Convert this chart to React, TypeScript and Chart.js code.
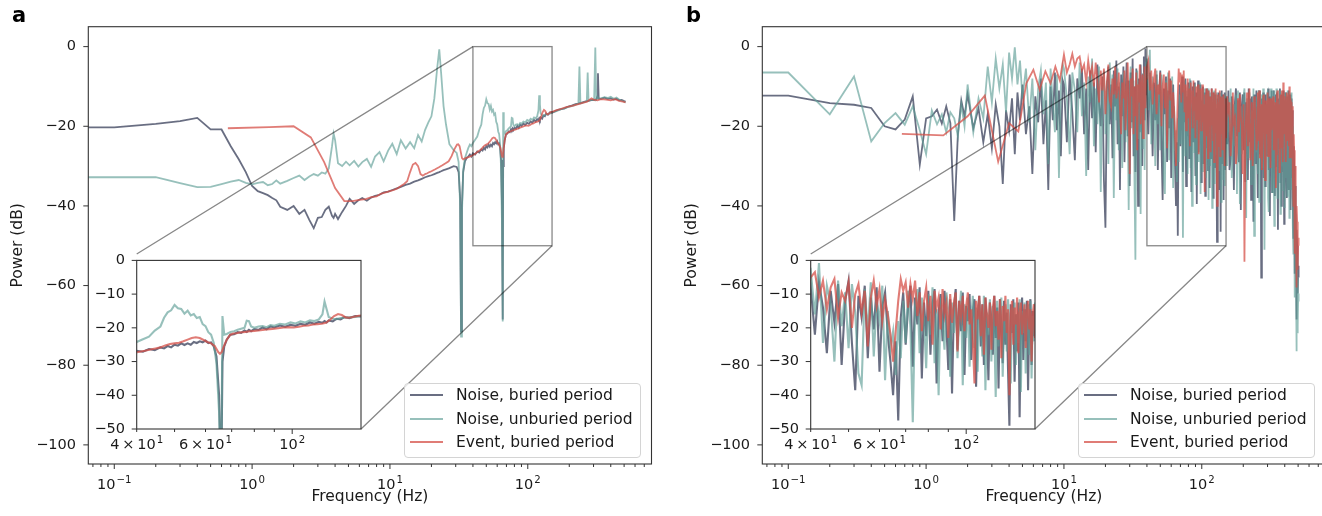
import React, { useEffect, useRef } from 'react';
import { Chart, registerables } from 'chart.js';

Chart.register(...registerables);

// ======================= DATA : panel a =======================
// Noise spectra (buried / unburied) share one frequency grid (Hz); values in dB.
const aNoiseFreq = [
  0.05, 0.1, 0.2, 0.3, 0.4, 0.5, 0.6, 0.7, 0.8, 0.9,
  1.0, 1.1, 1.2, 1.3, 1.4, 1.5, 1.6, 1.8, 2.0, 2.2,
  2.4, 2.6, 2.8, 3.0, 3.2, 3.4, 3.6, 3.8, 3.9, 4.0,
  4.2, 4.5, 4.8, 5.1, 5.5, 5.9, 6.3, 6.8, 7.3, 7.8,
  8.4, 9.0, 9.7, 10.4, 11.2, 12, 13, 14, 15, 16,
  17, 18, 19, 20, 21, 22, 22.8, 23.5, 24.5, 25.5,
  27, 29, 30.5, 31.5, 32.3, 32.8, 33.3, 34, 35, 36,
  37, 38, 39, 40, 41.5, 43, 44.5, 46, 47, 48,
  49, 50, 51, 52, 53, 54, 55, 56, 57, 58,
  59, 60, 61, 62, 63, 64, 65, 65.8, 66.3, 67,
  68, 69.5, 71, 72.5, 74, 75.5, 76.5, 77.5, 78.5, 80,
  82, 84, 86, 88, 90, 93, 96, 99, 102, 105,
  108, 111, 114, 117, 119.5, 121, 122.5, 124, 127, 130,
  133, 136, 140, 145, 150, 158, 166, 175, 185, 195,
  205, 215, 225, 233, 237, 241, 250, 260, 268, 272,
  276, 285, 295, 303, 309, 314, 320, 323, 327, 340,
  360, 380, 400, 420, 440, 460, 480, 500, 512,
];
const aNoiseBuried = [
  -20.3, -20.3, -19.4, -18.7, -17.9, -20.8, -20.8, -25.0, -28.3, -31.5,
  -35.0, -36.3, -36.8, -37.3, -38.0, -38.6, -40.2, -41.0, -40.0, -42.0,
  -41.0, -43.5, -45.6, -43.0, -42.8, -41.0, -40.2, -42.5, -43.0, -42.0,
  -43.3, -41.5, -40.0, -38.2, -39.5, -38.6, -38.0, -38.7, -37.9, -37.5,
  -37.2, -36.6, -36.4, -36.0, -35.6, -35.2, -34.7, -34.4, -33.9, -33.6,
  -33.2, -32.8, -32.5, -32.3, -32.0, -31.7, -31.5, -31.3, -31.0, -30.8,
  -30.5, -30.0, -30.2, -31.5, -38.0, -71.5, -40.0, -31.5, -28.8, -28.0,
  -27.6, -27.1, -27.6, -26.8, -27.1, -26.3, -26.6, -25.8, -26.1, -25.4,
  -25.8, -25.0, -25.3, -24.6, -25.1, -24.6, -25.0, -24.2, -24.5, -24.0,
  -24.3, -23.8, -24.5, -24.3, -25.5, -28.5, -40.0, -68.5, -30.0, -25.5,
  -23.5, -22.0, -21.9, -21.3, -21.5, -20.8, -21.2, -20.6, -21.0, -20.4,
  -20.6, -19.9, -20.4, -19.6, -19.9, -19.3, -19.7, -19.1, -19.4, -18.8,
  -19.1, -18.4, -18.8, -18.2, -18.5, -18.0, -18.4, -17.8, -18.1, -17.3,
  -17.5, -16.8, -17.1, -16.5, -16.6, -16.2, -15.9, -15.7, -15.5, -15.1,
  -14.9, -14.6, -14.4, -14.3, -14.2, -14.2, -14.0, -13.8, -13.7, -13.7,
  -13.6, -13.5, -13.4, -13.4, -13.3, -13.3, -12.5, -6.7, -13.0, -13.1,
  -12.8, -13.1, -13.0, -13.3, -13.1, -13.5, -13.4, -13.7, -13.8,
];
const aNoiseUnburied = [
  -32.8, -32.8, -32.8, -34.3, -35.3, -35.2, -34.5, -33.9, -33.5, -34.2,
  -34.6, -34.2, -34.0, -34.8, -34.5, -33.6, -34.4, -33.7, -33.0, -32.4,
  -33.5, -32.6, -32.0, -32.4, -31.6, -31.9, -30.6, -25.0, -21.8, -23.5,
  -29.3, -30.0, -28.9, -29.8, -28.7, -30.1, -29.0, -28.2, -30.2, -27.6,
  -26.5, -28.8, -26.1, -24.4, -27.0, -23.5, -25.6, -24.0, -25.5, -22.2,
  -23.8, -20.9, -19.0, -17.5, -13.0, -5.5, -0.7, -6.5, -15.0, -19.5,
  -24.5, -26.0, -26.7, -29.0, -40.0, -72.8, -42.0, -31.0, -28.0, -26.7,
  -25.5, -24.6, -25.0, -24.2, -23.4, -22.6, -20.8, -19.6, -17.0, -15.4,
  -14.8, -13.2, -14.2, -14.4, -15.8, -14.9, -16.3, -15.9, -17.1, -16.8,
  -18.9, -19.5, -21.3, -22.0, -24.5, -30.5, -45.0, -69.0, -16.5, -22.0,
  -21.8, -21.2, -21.0, -20.6, -20.3, -20.0, -17.9, -18.0, -19.6, -20.0,
  -19.6, -19.5, -19.8, -19.2, -19.4, -18.8, -19.0, -18.4, -18.7, -18.1,
  -18.4, -17.8, -18.0, -17.5, -16.0, -12.2, -14.5, -16.8, -17.3, -17.4,
  -17.1, -17.0, -16.9, -16.8, -16.5, -16.3, -16.0, -15.7, -15.5, -15.2,
  -15.0, -14.8, -14.5, -14.3, -5.0, -14.3, -14.1, -13.9, -13.7, -6.5,
  -13.6, -13.4, -13.3, -13.4, -0.2, -13.3, -13.0, -12.8, -13.1, -13.0,
  -12.7, -12.9, -12.6, -13.1, -12.8, -13.3, -13.6, -13.8, -14.0,
];
// Event spectrum (coarser frequency resolution)
const aEventFreq = [
  0.667, 1.333, 2.0, 2.667, 3.333, 4.0, 4.667, 5.333, 6.0, 6.667,
  7.333, 8.0, 8.667, 9.333, 10.0, 10.667, 11.333, 12.0, 12.667, 13.333,
  14.0, 14.667, 15.333, 16.0, 16.667, 17.333, 18.0, 18.667, 19.333, 20.0,
  21.333, 22.667, 24.0, 25.333, 26.667, 28.0, 29.333, 30.667, 31.333, 32.0,
  32.667, 33.333, 34.0, 35.333, 36.667, 38.0, 39.333, 40.667, 42.0, 43.333,
  44.667, 46.0, 47.333, 48.667, 50.0, 51.333, 52.667, 54.0, 55.333, 56.667,
  58.0, 59.333, 60.667, 62.0, 63.333, 64.667, 65.333, 66.0, 66.667, 68.0,
  69.333, 70.667, 72.0, 73.333, 74.667, 76.0, 78.0, 80.0, 83, 86,
  89, 92, 95, 98, 101, 104, 107, 110, 113, 116,
  119, 122, 125, 128, 131, 134, 137, 140, 144, 148,
  152, 160, 175, 190, 210, 230, 250, 270, 290, 300,
  320, 340, 370, 400, 430, 460, 490, 512,
];
const aEventBuried = [
  -20.5, -20.2, -20.0, -22.8, -29.0, -35.5, -38.8, -38.8, -38.5, -38.3,
  -37.8, -37.6, -36.9, -36.6, -36.3, -36.0, -35.6, -35.0, -34.5, -33.8,
  -31.5, -29.6, -29.2, -30.0, -32.0, -32.4, -32.0, -31.8, -31.5, -31.3,
  -30.8, -30.3, -29.8, -29.3, -28.8, -27.5, -25.8, -24.6, -24.5, -25.0,
  -26.5, -28.0, -28.3, -28.0, -27.8, -27.6, -27.4, -27.1, -26.8, -26.4,
  -26.1, -25.8, -25.2, -24.8, -24.6, -24.4, -24.0, -23.5, -23.0, -22.8,
  -23.0, -23.6, -24.2, -24.6, -25.4, -27.2, -27.7, -27.2, -25.8, -23.5,
  -22.1, -21.7, -21.6, -21.4, -21.3, -21.2, -21.0, -20.9, -20.7, -20.5,
  -20.3, -20.1, -19.9, -19.8, -19.9, -19.7, -19.4, -19.3, -19.0, -18.9,
  -18.8, -18.5, -17.6, -16.5, -15.9, -16.2, -16.9, -17.0, -16.7, -16.4,
  -16.3, -16.0, -15.6, -15.2, -14.9, -14.5, -14.1, -13.8, -13.0, -13.3,
  -13.5, -13.2, -13.3, -13.5, -13.2, -13.6, -13.8, -14.0,
];

// ======================= DATA : panel b =======================
const bNoiseLowFreq = [
  0.05, 0.1, 0.2, 0.3, 0.4, 0.5, 0.6, 0.7, 0.8, 0.9,
  1.0, 1.1, 1.2, 1.3, 1.4, 1.5, 1.6, 1.7, 1.8, 1.9,
  2.0, 2.2, 2.4, 2.6, 2.8, 3.0, 3.2, 3.4, 3.6, 3.8,
  4.0, 4.2, 4.4, 4.6, 4.8, 5.0, 5.3, 5.6, 5.9, 6.2,
  6.5, 6.8, 7.1, 7.4, 7.7, 8.0, 8.3, 8.6, 8.9, 9.2,
  9.5, 9.8,
];
const bNoiseBuriedLow = [
  -12.3, -12.3, -14.2, -14.6, -15.4, -20.0, -20.8, -18.3, -12.5, -29.6,
  -18.0, -17.5, -15.8, -19.3, -15.0, -19.2, -43.8, -22.0, -13.5, -17.5,
  -12.0, -20.5, -15.5, -24.0, -17.0, -25.5, -14.5, -20.0, -34.5, -16.0,
  -21.0, -13.0, -27.0, -11.5, -18.5, -9.5, -22.0, -15.0, -32.0, -12.5,
  -19.0, -8.0, -24.5, -13.5, -36.0, -10.0, -18.5, -6.5, -21.0, -11.0,
  -27.5, -8.5,
];
const bNoiseUnburiedLow = [
  -6.5, -6.5, -17.0, -7.5, -23.8, -19.2, -16.7, -19.6, -15.0, -21.0,
  -27.0, -16.0, -19.5, -17.0, -21.5, -16.5, -18.0, -22.5, -14.5, -20.0,
  -9.5, -21.5, -13.0, -18.0, -5.0, -14.0, -3.0, -10.5, -4.5, -16.5,
  -1.5, -8.0, -0.2, -9.5, -3.5, -13.0, -5.5, -19.0, -8.0, -26.0,
  -10.5, -6.0, -17.0, -9.0, -29.5, -5.5, -14.0, -21.5, -7.0, -33.0,
  -10.0, -4.5,
];
const bEventLowFreq = [0.667, 1.333, 2.0, 2.667, 3.333, 4.0, 4.667, 5.333, 6.0, 6.667, 7.333, 8.0, 8.667, 9.333];
const bEventBuriedLow = [-21.9, -22.3, -17.5, -12.3, -28.9, -19.2, -21.3, -9.2, -5.8, -10.8, -6.2, -9.2, -5.0, -8.5];

const bDenseFreq = [
  10, 10.5, 11, 11.5, 12, 12.5, 13, 13.5, 14, 14.5,
  15, 15.5, 16, 16.5, 17, 17.5, 18, 18.5, 19, 19.5,
  20, 20.5, 21, 21.5, 22, 22.5, 23, 23.5, 24, 24.5,
  25, 25.5, 26, 26.5, 27, 27.5, 28, 28.5, 29, 29.5,
  30, 30.5, 31, 31.5, 32, 32.5, 33, 33.5, 34, 34.5,
  35, 35.5, 36, 36.5, 37, 37.5, 38, 38.5, 39, 39.5,
  40, 41, 42, 43, 44, 45, 46, 47, 48, 49,
  50, 51, 52, 53, 54, 55, 56, 57, 58, 59,
  60, 61, 62, 63, 64, 65, 66, 67, 68, 69,
  70, 71, 72, 73, 74, 75, 76, 77, 78, 79,
  80, 81, 82, 83, 84, 85, 86, 87, 88, 89,
  90, 91, 92, 93, 94, 95, 96, 97, 98, 99,
  100, 101, 102, 103, 104, 105, 106, 107, 108, 109,
  110, 111, 112, 113, 114, 115, 116, 117, 118, 119,
  120, 121, 122, 123, 124, 125, 126, 127, 128, 129,
  130, 131, 132, 133, 134, 135, 136, 137, 138, 139,
  140, 141, 142, 143, 144, 145, 146, 147, 148, 149,
  150, 153, 156, 159, 162, 165, 168, 171, 174, 177,
  180, 183, 186, 189, 192, 195, 198, 201, 204, 207,
  210, 213, 216, 219, 222, 225, 228, 231, 234, 237,
  240, 243, 246, 249, 252, 255, 258, 261, 264, 267,
  270, 273, 276, 279, 282, 285, 288, 291, 294, 297,
  300, 303, 306, 309, 312, 315, 318, 321, 324, 327,
  330, 333, 336, 339, 342, 345, 348, 351, 354, 357,
  360, 363, 366, 369, 372, 375, 378, 381, 384, 387,
  390, 393, 396, 399, 402, 405, 408, 411, 414, 417,
  420, 423, 426, 429, 432, 435, 438, 441, 444, 447,
  450, 453, 456, 459, 462, 465, 468, 471, 474, 477,
  480, 483, 486, 489, 492, 495, 498, 501, 504,
];
const bNoiseBuriedDense = [
  -9.5, -24.0, -7.0, -16.5, -28.5, -8.0, -13.0, -5.5, -22.0, -10.5,
  -31.0, -6.0, -18.0, -9.0, -26.5, -4.5, -14.5, -20.0, -7.5, -33.5,
  -45.5, -11.0, -5.0, -19.5, -9.5, -28.0, -6.0, -15.0, -3.5, -24.5,
  -10.0, -36.0, -7.0, -17.5, -5.0, -29.0, -12.0, -4.0, -22.5, -8.5,
  -35.0, -6.5, -19.0, -3.0, -27.5, -10.0, -31.5, -5.5, -16.0, -40.0,
  -8.0, -21.5, -4.5, -13.0, -30.0, -7.0, -2.5, -18.5, -0.5, -12.0,
  -8.0, -22.0, -6.5, -14.0, -27.5, -9.0, -18.5, -7.0, -31.0, -12.0,
  -6.0, -24.5, -38.5, -10.5, -17.0, -7.5, -29.0, -11.0, -20.5, -8.0,
  -33.0, -13.5, -9.5, -22.0, -30.0, -40.0, -24.0, -47.5, -17.0, -9.5,
  -25.0, -14.0, -7.5, -31.5, -11.0, -19.0, -8.0, -35.0, -12.5, -22.5,
  -9.0, -28.0, -13.0, -8.5, -36.5, -15.5, -10.0, -24.0, -9.0, -19.5,
  -32.5, -11.5, -39.5, -14.0, -8.5, -26.5, -12.0, -21.0, -9.5, -34.0,
  -13.5, -18.0, -10.0, -29.5, -15.0, -11.5, -37.5, -16.5, -10.5, -25.5,
  -13.0, -31.0, -11.0, -20.0, -35.5, -12.5, -17.5, -28.0, -10.5, -23.0,
  -14.0, -38.0, -11.5, -19.5, -30.5, -12.0, -25.0, -15.5, -33.0, -49.0,
  -13.0, -21.5, -11.5, -36.0, -16.0, -27.0, -12.5, -46.5, -18.0, -11.0,
  -29.5, -14.5, -24.0, -12.0, -38.5, -17.0, -11.5, -31.0, -15.0, -22.5,
  -13.0, -24.5, -11.0, -31.0, -28.0, -12.5, -19.5, -36.0, -14.0, -10.5,
  -22.5, -13.5, -29.0, -11.5, -41.0, -15.0, -12.0, -26.0, -11.5, -34.0,
  -14.0, -20.5, -33.5, -10.5, -24.0, -13.0, -38.5, -12.5, -20.0, -44.0,
  -12.0, -17.5, -29.5, -11.0, -23.5, -38.0, -13.5, -11.0, -27.0, -15.0,
  -58.0, -13.0, -24.5, -11.5, -33.0, -14.0, -35.0, -12.0, -21.5, -14.5,
  -27.5, -10.5, -31.0, -15.5, -42.5, -12.5, -19.0, -11.0, -36.5, -13.5,
  -22.0, -11.0, -28.0, -37.5, -15.0, -12.0, -30.0, -11.5, -25.0, -46.0,
  -13.0, -20.5, -25.5, -10.5, -34.0, -12.5, -40.0, -12.0, -18.5, -31.5,
  -11.0, -26.0, -44.5, -13.5, -21.0, -27.0, -11.5, -33.5, -38.0, -14.0,
  -12.5, -29.0, -11.0, -36.0, -15.5, -24.5, -12.0, -41.0, -13.0, -30.5,
  -33.0, -16.0, -19.0, -38.0, -48.0, -25.0, -30.0, -44.0, -57.0, -35.0,
  -40.0, -52.0, -68.5, -46.0, -50.0, -60.0, -62.0, -55.0, -58.0,
];
const bNoiseUnburiedDense = [
  -5.5, -13.0, -27.0, -6.5, -11.0, -21.5, -4.0, -17.5, -9.0, -32.5,
  -7.5, -14.0, -3.0, -25.0, -10.5, -19.5, -5.0, -36.5, -12.0, -6.0,
  -22.0, -8.5, -29.5, -4.0, -15.5, -7.0, -38.0, -11.0, -18.5, -5.5,
  -26.0, -9.0, -14.0, -30.5, -6.5, -11.5, -24.0, -8.0, -16.5, -41.0,
  -10.0, -5.0, -20.5, -13.0, -8.5, -34.0, -53.5, -12.0, -6.0, -23.0,
  -9.5, -17.0, -42.0, -8.0, -14.5, -25.5, -6.5, -31.0, -10.0, -4.0,
  -3.0, -16.0, -0.8, -24.5, -7.5, -13.0, -30.0, -6.0, -19.5, -9.5,
  -26.0, -7.0, -15.5, -33.5, -37.0, -8.5, -21.0, -6.5, -28.5, -12.0,
  -18.0, -7.5, -35.5, -15.0, -26.0, -21.0, -34.0, -18.0, -29.0, -12.0,
  -24.5, -9.0, -20.0, -48.0, -13.5, -8.5, -27.5, -11.0, -17.5, -32.0,
  -10.0, -22.0, -8.0, -30.5, -14.5, -40.0, -11.0, -19.0, -26.5, -9.5,
  -15.0, -34.5, -12.5, -21.5, -10.0, -29.0, -16.5, -9.0, -37.0, -13.0,
  -23.0, -11.0, -31.5, -17.0, -10.5, -26.0, -14.0, -33.0, -12.0, -19.0,
  -28.5, -10.5, -38.5, -15.5, -22.0, -11.5, -30.0, -13.5, -20.5, -40.5,
  -12.0, -25.5, -15.0, -11.0, -34.5, -18.5, -13.0, -27.0, -11.5, -22.0,
  -36.5, -14.0, -19.0, -12.5, -31.0, -16.0, -24.5, -11.5, -39.0, -15.0,
  -21.5, -12.5, -33.5, -17.5, -13.0, -28.0, -12.0, -35.0, -16.5, -24.0,
  -12.5, -30.0, -13.0, -21.5, -10.5, -33.0, -26.0, -14.5, -25.0, -12.0,
  -37.0, -11.0, -18.5, -39.5, -15.0, -27.0, -20.5, -12.5, -10.5, -31.0,
  -43.0, -13.0, -23.5, -28.0, -11.5, -19.0, -34.5, -16.0, -30.0, -10.5,
  -47.5, -14.0, -26.5, -12.5, -23.0, -32.0, -11.0, -39.0, -17.5, -15.5,
  -12.0, -28.0, -30.5, -10.5, -22.0, -51.0, -14.5, -33.5, -26.0, -12.0,
  -11.5, -38.0, -41.5, -13.5, -25.5, -22.0, -10.5, -29.0, -36.5, -15.0,
  -11.0, -32.5, -45.0, -13.5, -20.0, -28.5, -10.5, -35.0, -38.0, -14.0,
  -24.0, -16.5, -11.0, -30.5, -42.0, -12.5, -27.0, -30.0, -11.5, -19.5,
  -36.0, -13.0, -24.5, -40.5, -11.5, -28.0, -33.0, -12.5, -21.0, -37.5,
  -11.0, -26.5, -32.0, -12.0, -43.0, -18.5, -13.5, -29.0, -11.5, -35.5,
  -36.0, -20.0, -22.0, -45.0, -52.0, -30.0, -35.0, -55.0, -63.0, -42.0,
  -47.0, -60.0, -76.5, -52.0, -58.0, -72.0, -70.0, -62.0, -64.0,
];
const bEventBuriedDense = [
  -2.0, -6.5, -4.5, -1.8, -5.0, -3.0, -2.5, -6.0, -4.5, -9.0,
  -3.5, -7.5, -5.0, -10.0, -4.0, -8.5, -14.0, -6.0, -11.0, -5.5,
  -17.0, -9.0, -4.5, -13.5, -15.0, -8.0, -12.0, -5.0, -13.0, -10.5,
  -6.5, -16.0, -22.0, -9.0, -13.0, -6.0, -21.0, -11.5, -4.0, -15.0,
  -32.0, -8.0, -12.5, -5.5, -22.0, -10.0, -17.5, -6.5, -26.0, -9.5,
  -14.0, -4.5, -19.5, -11.0, -7.0, -23.0, -13.0, -5.0, -15.5, -8.0,
  -5.0, -3.5, -11.0, -6.0, -14.5, -8.0, -5.5, -17.0, -9.5, -12.0,
  -6.5, -20.0, -10.0, -7.0, -15.5, -9.0, -25.5, -11.0, -6.0, -13.5,
  -8.5, -18.0, -11.5, -16.0, -22.0, -30.0, -21.0, -12.0, -5.5, -9.0,
  -6.5, -14.0, -7.0, -11.5, -6.0, -16.5, -9.5, -21.0, -12.0, -8.0,
  -18.0, -10.5, -25.0, -9.0, -14.0, -11.0, -20.5, -8.5, -16.0, -12.5,
  -23.0, -10.0, -18.5, -13.0, -9.5, -27.0, -12.0, -16.5, -10.5, -21.0,
  -13.5, -9.5, -19.0, -14.5, -24.0, -36.5, -12.0, -17.5, -10.5, -22.5,
  -13.0, -28.0, -11.0, -16.0, -20.0, -12.5, -26.5, -14.0, -10.5, -19.5,
  -15.0, -23.5, -11.5, -29.0, -13.5, -18.0, -10.5, -21.5, -14.5, -40.0,
  -16.0, -12.0, -25.0, -14.0, -19.0, -11.0, -27.5, -15.5, -12.5, -22.0,
  -17.0, -13.0, -26.0, -15.0, -12.0, -20.5, -14.5, -30.0, -16.0, -13.0,
  -23.0, -12.5, -16.0, -14.0, -27.5, -22.0, -11.5, -19.0, -18.0, -29.5,
  -26.5, -13.0, -21.5, -12.0, -17.5, -20.0, -32.0, -14.5, -54.0, -24.0,
  -16.5, -11.5, -25.0, -19.0, -10.5, -28.5, -19.5, -14.0, -30.0, -21.5,
  -12.5, -18.0, -17.0, -26.0, -23.5, -11.5, -20.5, -11.0, -28.0, -16.5,
  -14.5, -31.0, -20.5, -12.5, -12.0, -24.5, -33.5, -13.5, -15.5, -22.0,
  -11.5, -27.5, -24.0, -13.0, -18.0, -30.5, -13.0, -21.0, -18.5, -14.5,
  -12.5, -26.0, -21.0, -15.5, -14.0, -35.5, -27.0, -12.0, -11.0, -23.0,
  -19.0, -14.5, -31.5, -20.0, -12.0, -25.5, -16.5, -11.0, -24.5, -29.0,
  -9.0, -22.0, -20.0, -12.5, -13.5, -27.0, -29.0, -15.0, -11.5, -23.5,
  -17.5, -12.0, -25.0, -19.5, -10.0, -28.0, -22.0, -13.5, -14.0, -26.5,
  -28.0, -15.0, -18.0, -32.0, -40.0, -22.0, -26.0, -38.0, -52.0, -30.0,
  -34.0, -48.0, -60.5, -40.0, -44.0, -56.0, -55.0, -48.0, -50.0,
];

// ======================= labels / ticks =======================
const SERIES_LABELS = ['Noise, buried period', 'Noise, unburied period', 'Event, buried period'];
const MAIN_X_RANGE = [0.0648, 790];
const MAIN_Y_RANGE = [-104.8, 5];
const ZOOM_X = [40, 150];
const ZOOM_Y = [-50, 0];
const MAIN_X_MAJOR = [0.1, 1, 10, 100];
// tick labels as [mantissa text, exponent text]
const MAIN_X_LABELS = [['10', '\u22121'], ['10', '0'], ['10', '1'], ['10', '2']];
const MAIN_X_MINOR = [0.07, 0.08, 0.09, 0.2, 0.3, 0.4, 0.5, 0.6, 0.7, 0.8, 0.9, 2, 3, 4, 5, 6, 7, 8, 9, 20, 30, 40, 50, 60, 70, 80, 90, 200, 300, 400, 500, 600, 700];
const MAIN_Y_TICKS = [-100, -80, -60, -40, -20, 0];
const INSET_X_LABELED = [40, 60, 100];
const INSET_X_LABELS = [['4\u2009\u00D7\u200910', '1'], ['6\u2009\u00D7\u200910', '1'], ['10', '2']];
const INSET_X_MAJOR = [100];
const INSET_X_MINOR = [40, 50, 60, 70, 80, 90];
const INSET_Y_TICKS = [-50, -40, -30, -20, -10, 0];

// ======================= styling / layout =======================
const FONT = "'DejaVu Sans', 'Liberation Sans', sans-serif";
const TEXT = '#1a1a1a';
const TICK_SIZE = 14.5;
const EXP_SIZE = 10.2;
const SERIES_COLORS = ['rgba(55,62,88,0.75)', 'rgba(95,158,150,0.65)', 'rgba(214,80,72,0.75)'];
const PANEL_W = 661;
const PANEL_H = 516;
const PANEL_OFFSET_B = 674;
const MAIN_AREA = { left: 88.3, top: 26.7, right: 651.5, bottom: 464 };
const INSET_AREA = { left: 136.7, top: 254, right: 361, bottom: 429 };
const INSET_CANVAS = { left: 80, top: 240, width: 295, height: 235 };
const LEGEND_BOX = { left: 404, top: 383, width: 237, height: 75 };
const LEGEND_ROWS = [12, 36, 59];

type Pt = { x: number; y: number };
const pts = (xs: number[], ys: number[]): Pt[] => xs.map((x, i) => ({ x, y: ys[i] }));

const panelASeries: Pt[][] = [
  pts(aNoiseFreq, aNoiseBuried),
  pts(aNoiseFreq, aNoiseUnburied),
  pts(aEventFreq, aEventBuried),
];
const panelBSeries: Pt[][] = [
  pts([...bNoiseLowFreq, ...bDenseFreq], [...bNoiseBuriedLow, ...bNoiseBuriedDense]),
  pts([...bNoiseLowFreq, ...bDenseFreq], [...bNoiseUnburiedLow, ...bNoiseUnburiedDense]),
  pts([...bEventLowFreq, ...bDenseFreq], [...bEventBuriedLow, ...bEventBuriedDense]),
];

function decorPlugin(cfg: {
  xMajor: number[];
  xMinor: number[];
  yTicks: number[];
  xLabelVals: number[];
  xLabels: string[][];
  labelBaseline: number;
  fill: boolean;
  target: any;
}) {
  return {
    id: 'decor',
    beforeDraw(chart: any) {
      if (!cfg.fill) return;
      const { ctx, chartArea: a } = chart;
      ctx.save();
      ctx.fillStyle = '#ffffff';
      ctx.fillRect(a.left, a.top, a.right - a.left, a.bottom - a.top);
      ctx.restore();
    },
    afterDatasetsDraw(chart: any) {
      if (!cfg.target) return;
      const { ctx } = chart;
      const xs = chart.scales.x;
      const ys = chart.scales.y;
      const x0 = xs.getPixelForValue(ZOOM_X[0]);
      const x1 = xs.getPixelForValue(ZOOM_X[1]);
      const y0 = ys.getPixelForValue(ZOOM_Y[1]);
      const y1 = ys.getPixelForValue(ZOOM_Y[0]);
      const t = cfg.target;
      ctx.save();
      ctx.strokeStyle = 'rgba(0,0,0,0.47)';
      ctx.lineWidth = 1.3;
      ctx.strokeRect(x0, y0, x1 - x0, y1 - y0);
      ctx.beginPath();
      ctx.moveTo(x0, y0);
      ctx.lineTo(t.left, t.top);
      ctx.moveTo(x1, y1);
      ctx.lineTo(t.right, t.bottom);
      ctx.stroke();
      ctx.restore();
    },
    afterDraw(chart: any) {
      const { ctx, chartArea: a } = chart;
      const xs = chart.scales.x;
      const ys = chart.scales.y;
      ctx.save();
      ctx.strokeStyle = '#333333';
      ctx.lineWidth = 1.1;
      ctx.strokeRect(a.left, a.top, a.right - a.left, a.bottom - a.top);
      ctx.lineWidth = 1;
      ctx.beginPath();
      for (const v of cfg.xMajor) {
        const p = xs.getPixelForValue(v);
        ctx.moveTo(p, a.bottom);
        ctx.lineTo(p, a.bottom + 5);
      }
      for (const v of cfg.xMinor) {
        const p = xs.getPixelForValue(v);
        if (p < a.left - 0.5 || p > a.right + 0.5) continue;
        ctx.moveTo(p, a.bottom);
        ctx.lineTo(p, a.bottom + 3);
      }
      for (const v of cfg.yTicks) {
        const p = ys.getPixelForValue(v);
        ctx.moveTo(a.left - 5, p);
        ctx.lineTo(a.left, p);
      }
      ctx.stroke();

      // x tick labels with raised exponents (mathtext-like)
      ctx.fillStyle = TEXT;
      ctx.textBaseline = 'alphabetic';
      ctx.textAlign = 'left';
      cfg.xLabelVals.forEach((v, i) => {
        const [base, exp] = cfg.xLabels[i];
        const p = xs.getPixelForValue(v);
        ctx.font = `${TICK_SIZE}px ${FONT}`;
        const wb = ctx.measureText(base).width;
        ctx.font = `${EXP_SIZE}px ${FONT}`;
        const we = ctx.measureText(exp).width;
        const x0 = p - (wb + we + 1) / 2;
        const by = a.bottom + cfg.labelBaseline;
        ctx.font = `${TICK_SIZE}px ${FONT}`;
        ctx.fillText(base, x0, by);
        ctx.font = `${EXP_SIZE}px ${FONT}`;
        ctx.fillText(exp, x0 + wb + 1, by - 6.5);
      });
      ctx.restore();
    },
  };
}

function buildConfig(series: Pt[][], isMain: boolean): any {
  const tickFont = { family: FONT, size: TICK_SIZE };
  const canvasW = isMain ? PANEL_W : INSET_CANVAS.width;
  const canvasH = isMain ? PANEL_H : INSET_CANVAS.height;
  const area = isMain
    ? MAIN_AREA
    : {
        left: INSET_AREA.left - INSET_CANVAS.left,
        top: INSET_AREA.top - INSET_CANVAS.top,
        right: INSET_AREA.right - INSET_CANVAS.left,
        bottom: INSET_AREA.bottom - INSET_CANVAS.top,
      };
  const yTicks = isMain ? MAIN_Y_TICKS : INSET_Y_TICKS;
  const xRange = isMain ? MAIN_X_RANGE : ZOOM_X;
  const yRange = isMain ? MAIN_Y_RANGE : ZOOM_Y;

  return {
    type: 'line',
    data: {
      datasets: series.map((d, i) => ({
        label: SERIES_LABELS[i],
        data: d,
        borderColor: SERIES_COLORS[i],
        backgroundColor: SERIES_COLORS[i],
        borderWidth: isMain ? 1.8 : 2.1,
        pointRadius: 0,
        pointHoverRadius: 0,
        tension: 0,
        fill: false,
        order: series.length - i,
        clip: 0,
      })),
    },
    options: {
      responsive: false,
      animation: false,
      events: [],
      layout: { padding: { left: 0, top: area.top, right: canvasW - area.right, bottom: 0 } },
      plugins: { legend: { display: false }, tooltip: { enabled: false } },
      scales: {
        x: {
          type: 'logarithmic',
          bounds: 'data',
          min: xRange[0],
          max: xRange[1],
          grid: { display: false, drawTicks: false },
          border: { display: false },
          ticks: { display: false, autoSkip: false, maxRotation: 0, minRotation: 0 },
          afterFit: (s: any) => {
            s.height = canvasH - area.bottom;
          },
          title: isMain
            ? { display: true, text: 'Frequency (Hz)', color: TEXT, font: { family: FONT, size: 15.5 }, padding: { top: 0, bottom: 9.5 } }
            : { display: false },
        },
        y: {
          type: 'linear',
          bounds: 'data',
          min: yRange[0],
          max: yRange[1],
          grid: { display: false, drawTicks: false },
          border: { display: false },
          ticks: {
            autoSkip: false,
            padding: isMain ? 12.3 : 11.7,
            color: TEXT,
            font: tickFont,
            callback: (v: any) => String(v).replace('-', '\u2212'),
          },
          afterBuildTicks: (s: any) => {
            s.ticks = yTicks.map((v) => ({ value: v }));
          },
          afterFit: (s: any) => {
            s.width = area.left;
          },
          title: isMain
            ? { display: true, text: 'Power (dB)', color: TEXT, font: { family: FONT, size: 15.5 }, padding: { top: 8.7, bottom: 0 } }
            : { display: false },
        },
      },
    },
    plugins: [
      decorPlugin({
        xMajor: isMain ? MAIN_X_MAJOR : INSET_X_MAJOR,
        xMinor: isMain ? MAIN_X_MINOR : INSET_X_MINOR,
        yTicks,
        xLabelVals: isMain ? MAIN_X_MAJOR : INSET_X_LABELED,
        xLabels: isMain ? MAIN_X_LABELS : INSET_X_LABELS,
        labelBaseline: isMain ? 25 : 20,
        fill: !isMain,
        target: isMain ? INSET_AREA : null,
      }),
    ],
  };
}

function Panel({ left, letter, series }: { left: number; letter: string; series: Pt[][] }) {
  const mainRef = useRef<HTMLCanvasElement | null>(null);
  const insetRef = useRef<HTMLCanvasElement | null>(null);

  useEffect(() => {
    const main = new Chart(mainRef.current as HTMLCanvasElement, buildConfig(series, true));
    const inset = new Chart(insetRef.current as HTMLCanvasElement, buildConfig(series, false));
    return () => {
      main.destroy();
      inset.destroy();
    };
  }, [series]);

  return (
    <div style={{ position: 'absolute', left, top: 0, width: PANEL_W, height: PANEL_H }}>
      <canvas ref={mainRef} width={PANEL_W} height={PANEL_H} style={{ position: 'absolute', left: 0, top: 0 }} />
      <canvas
        ref={insetRef}
        width={INSET_CANVAS.width}
        height={INSET_CANVAS.height}
        style={{ position: 'absolute', left: INSET_CANVAS.left, top: INSET_CANVAS.top }}
      />
      <div
        style={{
          position: 'absolute',
          left: LEGEND_BOX.left,
          top: LEGEND_BOX.top,
          width: LEGEND_BOX.width,
          height: LEGEND_BOX.height,
          boxSizing: 'border-box',
          border: '1px solid #d4d4d4',
          borderRadius: 4,
          background: 'rgba(255,255,255,0.8)',
          fontFamily: FONT,
          fontSize: 15.5,
          color: TEXT,
        }}
      >
        {SERIES_LABELS.map((lab, i) => (
          <div
            key={lab}
            style={{
              position: 'absolute',
              left: 5,
              top: LEGEND_ROWS[i] - 11,
              height: 20,
              display: 'flex',
              alignItems: 'center',
              whiteSpace: 'nowrap',
            }}
          >
            <span style={{ display: 'inline-block', width: 33, height: 2, background: SERIES_COLORS[i] }} />
            <span style={{ marginLeft: 13, lineHeight: '20px' }}>{lab}</span>
          </div>
        ))}
      </div>
      <div
        style={{
          position: 'absolute',
          left: 12,
          top: 5,
          fontFamily: FONT,
          fontWeight: 'bold',
          fontSize: 21,
          lineHeight: '21px',
          color: '#000',
        }}
      >
        {letter}
      </div>
    </div>
  );
}

export default function App() {
  return (
    <div
      style={{
        position: 'absolute',
        left: 0,
        top: 0,
        width: 1322,
        height: 516,
        overflow: 'hidden',
        background: '#ffffff',
      }}
    >
      <Panel left={0} letter="a" series={panelASeries} />
      <Panel left={PANEL_OFFSET_B} letter="b" series={panelBSeries} />
    </div>
  );
}
